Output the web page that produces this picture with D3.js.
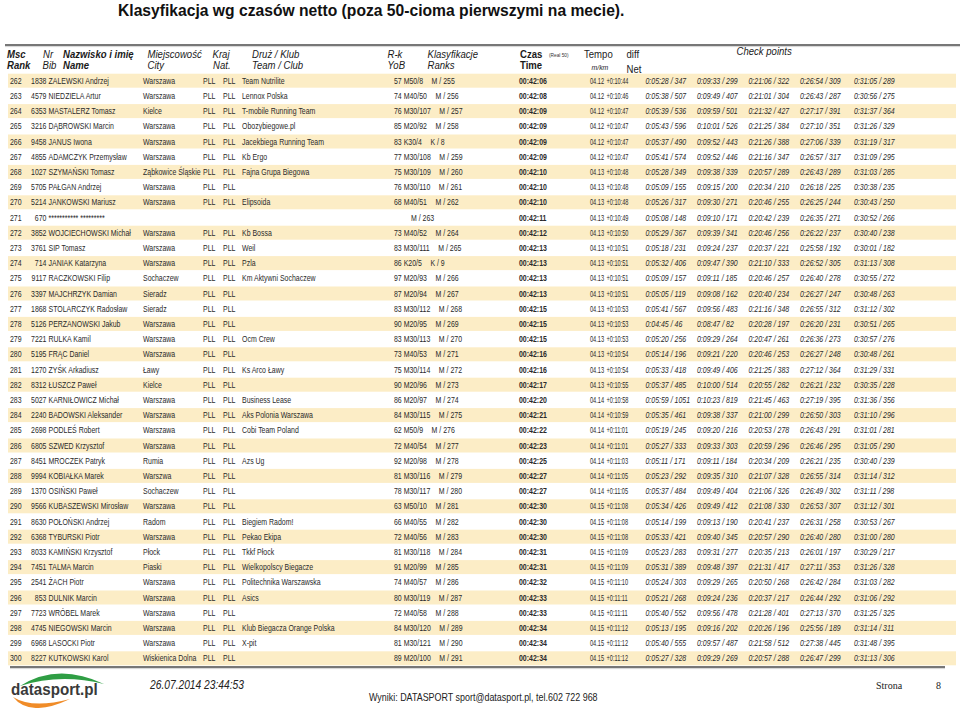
<!DOCTYPE html>
<html><head><meta charset="utf-8">
<script src="https://cdn.jsdelivr.net/npm/d3@7"></script>
<style>body{margin:0;background:#fff}svg{display:block}</style>
</head><body>
<svg id="c" width="960" height="708"></svg>
<script>
const ranks = ["262","263","264","265","266","267","268","269","270","271","272","273","274","275","276","277","278","279","280","281","282","283","284","285","286","287","288","289","290","291","292","293","294","295","296","297","298","299","300"];
const bibs = ["1838","4579","6353","3216","9458","4855","1027","5705","5214","670","3852","3761","714","9117","3397","1868","5126","7221","5195","1270","8312","5027","2240","2698","6805","8451","9994","1370","9566","8630","6368","8033","7451","2541","853","7723","4745","6968","8227"];
const names = ["ZALEWSKI Andrzej","NIEDZIELA Artur","MASTALERZ Tomasz","DĄBROWSKI Marcin","JANUS Iwona","ADAMCZYK Przemysław","SZYMAŃSKI Tomasz","PAŁGAN Andrzej","JANKOWSKI Mariusz","*********** *********","WOJCIECHOWSKI Michał","SIP Tomasz","JANIAK Katarzyna","RACZKOWSKI Filip","MAJCHRZYK Damian","STOLARCZYK Radosław","PERZANOWSKI Jakub","RULKA Kamil","FRĄC Daniel","ZYŚK Arkadiusz","ŁUSZCZ Paweł","KARNIŁOWICZ Michał","BADOWSKI Aleksander","PODLEŚ Robert","SZWED Krzysztof","MROCZEK Patryk","KOBIAŁKA Marek","OSIŃSKI Paweł","KUBASZEWSKI Mirosław","POŁOŃSKI Andrzej","TYBURSKI Piotr","KAMIŃSKI Krzysztof","TALMA Marcin","ŻACH Piotr","DULNIK Marcin","WRÓBEL Marek","NIEGOWSKI Marcin","LASOCKI Piotr","KUTKOWSKI Karol"];
const cities = ["Warszawa","Warszawa","Kielce","Warszawa","Warszawa","Warszawa","Ząbkowice Śląskie","Warszawa","Warszawa","","Warszawa","Warszawa","Warszawa","Sochaczew","Sieradz","Sieradz","Warszawa","Warszawa","Warszawa","Ławy","Kielce","Warszawa","Warszawa","Warszawa","Warszawa","Rumia","Warszwa","Sochaczew","Warszawa","Radom","Warszawa","Płock","Piaski","Warszawa","Warszawa","Warszawa","Warszawa","Warszawa","Wiskienica Dolna"];
const countries = ["PLL","PLL","PLL","PLL","PLL","PLL","PLL","PLL","PLL","","PLL","PLL","PLL","PLL","PLL","PLL","PLL","PLL","PLL","PLL","PLL","PLL","PLL","PLL","PLL","PLL","PLL","PLL","PLL","PLL","PLL","PLL","PLL","PLL","PLL","PLL","PLL","PLL","PLL"];
const clubs = ["Team Nutrilite","Lennox Polska","T-mobile Running Team","Obozybiegowe.pl","Jacekbiega Running Team","Kb Ergo","Fajna Grupa Biegowa","","Elipsoida","","Kb Bossa","Weil","Pzla","Km Aktywni Sochaczew","","","","Ocm Crew","","Ks Arco Ławy","","Business Lease","Aks Polonia Warszawa","Cobi Team Poland","","Azs Ug","","","","Biegiem Radom!","Pekao Ekipa","Tkkf Płock","Wielkopolscy Biegacze","Politechnika Warszawska","Asics","","Klub Biegacza Orange Polska","X-pit",""];
const yobCats = ["57 M50/8","74 M40/50","76 M30/107","85 M20/92","83 K30/4","77 M30/108","75 M30/109","76 M30/110","68 M40/51","","73 M40/52","83 M30/111","86 K20/5","97 M20/93","87 M20/94","83 M30/112","90 M20/95","83 M30/113","73 M40/53","75 M30/114","90 M20/96","86 M20/97","84 M30/115","62 M50/9","72 M40/54","92 M20/98","81 M30/116","78 M30/117","63 M50/10","66 M40/55","72 M40/56","81 M30/118","91 M20/99","74 M40/57","80 M30/119","72 M40/58","84 M30/120","81 M30/121","89 M20/100"];
const classRanks = ["M / 255","M / 256","M / 257","M / 258","K / 8","M / 259","M / 260","M / 261","M / 262","M / 263","M / 264","M / 265","K / 9","M / 266","M / 267","M / 268","M / 269","M / 270","M / 271","M / 272","M / 273","M / 274","M / 275","M / 276","M / 277","M / 278","M / 279","M / 280","M / 281","M / 282","M / 283","M / 284","M / 285","M / 286","M / 287","M / 288","M / 289","M / 290","M / 291"];
const times = ["00:42:06","00:42:08","00:42:09","00:42:09","00:42:09","00:42:09","00:42:10","00:42:10","00:42:10","00:42:11","00:42:12","00:42:13","00:42:13","00:42:13","00:42:13","00:42:15","00:42:15","00:42:15","00:42:16","00:42:16","00:42:17","00:42:20","00:42:21","00:42:22","00:42:23","00:42:25","00:42:27","00:42:27","00:42:30","00:42:30","00:42:30","00:42:31","00:42:31","00:42:32","00:42:33","00:42:33","00:42:34","00:42:34","00:42:34"];
const tempos = ["04.12","04.12","04.12","04.12","04.12","04.12","04.13","04.13","04.13","04.13","04.13","04.13","04.13","04.13","04.13","04.13","04.13","04.13","04.13","04.13","04.13","04.14","04.14","04.14","04.14","04.14","04.14","04.14","04.15","04.15","04.15","04.15","04.15","04.15","04.15","04.15","04.15","04.15","04.15"];
const diffs = ["+0:10:44","+0:10:46","+0:10:47","+0:10:47","+0:10:47","+0:10:47","+0:10:48","+0:10:48","+0:10:48","+0:10:49","+0:10:50","+0:10:51","+0:10:51","+0:10:51","+0:10:51","+0:10:53","+0:10:53","+0:10:53","+0:10:54","+0:10:54","+0:10:55","+0:10:58","+0:10:59","+0:11:01","+0:11:01","+0:11:03","+0:11:05","+0:11:05","+0:11:08","+0:11:08","+0:11:08","+0:11:09","+0:11:09","+0:11:10","+0:11:11","+0:11:11","+0:11:12","+0:11:12","+0:11:12"];
const cp1 = ["0:05:28 / 347","0:05:38 / 507","0:05:39 / 536","0:05:43 / 596","0:05:37 / 490","0:05:41 / 574","0:05:28 / 349","0:05:09 / 155","0:05:26 / 317","0:05:08 / 148","0:05:29 / 367","0:05:18 / 231","0:05:32 / 406","0:05:09 / 157","0:05:05 / 119","0:05:41 / 567","0:04:45 / 46","0:05:20 / 256","0:05:14 / 196","0:05:33 / 418","0:05:37 / 485","0:05:59 / 1051","0:05:35 / 461","0:05:19 / 245","0:05:27 / 333","0:05:11 / 171","0:05:23 / 292","0:05:37 / 484","0:05:34 / 426","0:05:14 / 199","0:05:33 / 421","0:05:23 / 283","0:05:31 / 389","0:05:24 / 303","0:05:21 / 268","0:05:40 / 552","0:05:13 / 195","0:05:40 / 555","0:05:27 / 328"];
const cp2 = ["0:09:33 / 299","0:09:49 / 407","0:09:59 / 501","0:10:01 / 526","0:09:52 / 443","0:09:52 / 446","0:09:38 / 339","0:09:15 / 200","0:09:30 / 271","0:09:10 / 171","0:09:39 / 341","0:09:24 / 237","0:09:47 / 390","0:09:11 / 185","0:09:08 / 162","0:09:56 / 483","0:08:47 / 82","0:09:29 / 264","0:09:21 / 220","0:09:49 / 406","0:10:00 / 514","0:10:23 / 819","0:09:38 / 337","0:09:20 / 216","0:09:33 / 303","0:09:11 / 184","0:09:35 / 310","0:09:49 / 404","0:09:49 / 412","0:09:13 / 190","0:09:40 / 345","0:09:31 / 277","0:09:48 / 397","0:09:29 / 265","0:09:24 / 236","0:09:56 / 478","0:09:16 / 202","0:09:57 / 487","0:09:29 / 269"];
const cp3 = ["0:21:06 / 322","0:21:01 / 304","0:21:32 / 427","0:21:25 / 384","0:21:26 / 388","0:21:16 / 347","0:20:57 / 289","0:20:34 / 210","0:20:46 / 255","0:20:42 / 239","0:20:46 / 256","0:20:37 / 221","0:21:10 / 333","0:20:46 / 257","0:20:40 / 234","0:21:16 / 348","0:20:28 / 197","0:20:47 / 261","0:20:46 / 253","0:21:25 / 383","0:20:55 / 282","0:21:45 / 463","0:21:00 / 299","0:20:53 / 278","0:20:59 / 296","0:20:34 / 209","0:21:07 / 328","0:21:06 / 326","0:21:08 / 330","0:20:41 / 237","0:20:57 / 290","0:20:35 / 213","0:21:31 / 417","0:20:50 / 268","0:20:37 / 217","0:21:28 / 401","0:20:26 / 196","0:21:58 / 512","0:20:57 / 288"];
const cp4 = ["0:26:54 / 309","0:26:43 / 287","0:27:17 / 391","0:27:10 / 351","0:27:06 / 339","0:26:57 / 317","0:26:43 / 289","0:26:18 / 225","0:26:25 / 244","0:26:35 / 271","0:26:22 / 237","0:25:58 / 192","0:26:52 / 305","0:26:40 / 278","0:26:27 / 247","0:26:55 / 312","0:26:20 / 231","0:26:36 / 273","0:26:27 / 248","0:27:12 / 364","0:26:21 / 232","0:27:19 / 395","0:26:50 / 303","0:26:43 / 291","0:26:46 / 295","0:26:21 / 235","0:26:55 / 314","0:26:49 / 302","0:26:53 / 307","0:26:31 / 258","0:26:40 / 280","0:26:01 / 197","0:27:11 / 353","0:26:42 / 284","0:26:44 / 292","0:27:13 / 370","0:25:56 / 189","0:27:38 / 445","0:26:47 / 299"];
const cp5 = ["0:31:05 / 289","0:30:56 / 275","0:31:37 / 364","0:31:26 / 329","0:31:19 / 317","0:31:09 / 295","0:31:03 / 285","0:30:38 / 235","0:30:43 / 250","0:30:52 / 266","0:30:40 / 238","0:30:01 / 182","0:31:13 / 308","0:30:55 / 272","0:30:48 / 263","0:31:12 / 302","0:30:51 / 265","0:30:57 / 276","0:30:48 / 261","0:31:29 / 331","0:30:35 / 228","0:31:36 / 356","0:31:10 / 296","0:31:01 / 281","0:31:05 / 290","0:30:40 / 239","0:31:14 / 312","0:31:11 / 298","0:31:12 / 301","0:30:53 / 267","0:31:00 / 280","0:30:29 / 217","0:31:26 / 328","0:31:03 / 282","0:31:06 / 292","0:31:25 / 325","0:31:14 / 311","0:31:48 / 395","0:31:13 / 306"];
const headerRow1 = ["Msc","Nr","Nazwisko i imię","Miejscowość","Kraj","Druż / Klub","R-k","Klasyfikacje","Czas","Tempo","diff"];
const headerRow2 = ["Rank","Bib","Name","City","Nat.","Team / Club","YoB","Ranks","Time","m/km","Net"];
const titleText = "Klasyfikacja wg czasów netto (poza 50-cioma pierwszymi na mecie).";

// ---------- layout ----------
const svg = d3.select("#c");
const SANS = "'Liberation Sans', Arial, sans-serif";
const NARROW = 0.82;

const rows = ranks.map((r, i) => ({
  rank: r, bib: bibs[i], name: names[i], city: cities[i], kraj: countries[i], nat: countries[i],
  club: clubs[i], yob: yobCats[i], cls: classRanks[i], time: times[i], tempo: tempos[i], diff: diffs[i],
  cp1: cp1[i], cp2: cp2[i], cp3: cp3[i], cp4: cp4[i], cp5: cp5[i]
}));

const y = d3.scaleBand().domain(ranks).range([73.1, 73.1 + ranks.length * 15.2]);

const colKeys = ["rank","bib","name","city","kraj","nat","club","yob","time","tempo","diff","cp1","cp2","cp3","cp4","cp5"];
const x = d3.scaleOrdinal().domain(colKeys)
  .range([10, 46.5, 48.5, 143, 203, 223, 242, 394, 519, 590, 606.5, 645.5, 697, 748.5, 800, 854]);
const colStyle = {
  bib: {anchor: "end"}, time: {weight: "bold"},
  tempo: {sx: 0.66}, diff: {sx: 0.66},
  cp1: {style: "italic"}, cp2: {style: "italic"}, cp3: {style: "italic"}, cp4: {style: "italic"}, cp5: {style: "italic"}
};

function ntext(sel, tx, ty, str, o = {}) {
  return sel.append("text")
    .attr("transform", `translate(${tx},${ty}) scale(${o.sx || NARROW},1)`)
    .attr("font-family", o.family || SANS)
    .attr("font-size", o.size || 8.5)
    .attr("font-weight", o.weight || "normal")
    .attr("font-style", o.style || "normal")
    .attr("text-anchor", o.anchor || "start")
    .attr("fill", o.fill || "#2a2a2a")
    .text(str);
}

// title
const title = svg.append("text").attr("x", 118).attr("y", 16)
  .attr("font-family", SANS).attr("font-weight", "bold").attr("font-size", 17)
  .attr("fill", "#111").text(titleText);
const tl = title.node().getComputedTextLength();
title.attr("font-size", 17 * 507 / tl);

// top rule
svg.append("line").attr("x1", 5).attr("x2", 960).attr("y1", 45).attr("y2", 45)
  .attr("stroke", "#4a4a4a").attr("stroke-width", 1.6);
svg.append("line").attr("x1", 5).attr("x2", 960).attr("y1", 46.6).attr("y2", 46.6)
  .attr("stroke", "#c8c8c8").attr("stroke-width", 0.8);

// header
const hdr = svg.append("g");
const hx = [7, 43, 63, 147.5, 212.5, 252, 387.5, 427.5, 520, 584, 626.5];
const hx2 = [7, 42.5, 63, 147.5, 213, 252, 387.5, 427.5, 520, 591.5, 626.5];
const hStyle1 = [
  {weight:"bold",style:"italic"},{style:"italic"},{weight:"bold",style:"italic"},{style:"italic"},{style:"italic"},
  {style:"italic"},{style:"italic"},{style:"italic"},{weight:"bold"},{},{}];
const hStyle2 = [
  {weight:"bold",style:"italic"},{style:"italic"},{weight:"bold",style:"italic"},{style:"italic"},{style:"italic"},
  {style:"italic"},{style:"italic"},{style:"italic"},{weight:"bold"},{style:"italic",size:7.5},{}];
const HS = {size: 10.4, sx: 0.92, fill: "#1a1a1a"};
headerRow1.forEach((t, i) => ntext(hdr, hx[i], 58.4, t, Object.assign({}, HS, hStyle1[i])));
headerRow2.forEach((t, i) => ntext(hdr, hx2[i], i === 10 ? 73 : (i === 9 ? 70 : 68.6), t,
  Object.assign({}, HS, hStyle2[i])));
ntext(hdr, 549, 57, "(Real 50)", {size: 5.8, fill: "#333"});
ntext(hdr, 736.5, 55, "Check points", Object.assign({}, HS, {style: "italic"}));

// row bands
svg.append("g").selectAll("rect")
  .data(rows.filter((d, i) => i % 2 === 0))
  .join("rect")
  .attr("x", 8).attr("width", 948)
  .attr("y", d => y(d.rank) + 0.6).attr("height", y.bandwidth() - 1.2)
  .attr("fill", "#fcedc6");

// row texts
const rowG = svg.append("g").selectAll("g").data(rows).join("g");
rowG.each(function (d) {
  const g = d3.select(this);
  const base = y(d.rank) + y.bandwidth() / 2 + 3;
  colKeys.forEach(k => {
    if (!d[k]) return;
    ntext(g, x(k), base, d[k], colStyle[k] || {});
  });
  // class rank follows the YoB/category text
  let cx = 411;
  if (d.yob) {
    const t = ntext(g, -1000, -1000, d.yob);
    cx = x("yob") + t.node().getComputedTextLength() * NARROW + 8.5;
    t.remove();
  }
  ntext(g, cx, base, d.cls);
});

// bottom rule
svg.append("line").attr("x1", 10).attr("x2", 945).attr("y1", 667).attr("y2", 667)
  .attr("stroke", "#4a4a4a").attr("stroke-width", 1.6);
svg.append("line").attr("x1", 10).attr("x2", 945).attr("y1", 668.6).attr("y2", 668.6)
  .attr("stroke", "#c8c8c8").attr("stroke-width", 0.8);

// footer logo
const logo = svg.append("g");
logo.append("path").attr("d", "M20,686 Q58,662 104,684 Q60,673 20,686 Z").attr("fill", "#2f9e44");
logo.append("path").attr("d", "M13,697 Q30,718 70,699 Q32,709 13,697 Z").attr("fill", "#f08c28");
ntext(logo, 11, 695, "datasport.pl", {size: 16.5, weight: "bold", sx: 0.92, fill: "#3a3a3a"});

// footer texts
ntext(svg, 150, 689, "26.07.2014 23:44:53", {size: 12.5, style: "italic", fill: "#222"});
ntext(svg, 369, 701, "Wyniki: DATASPORT sport@datasport.pl, tel.602 722 968", {size: 10.9, fill: "#222"});
ntext(svg, 876, 689, "Strona", {size: 10, family: "'Liberation Serif', 'Times New Roman', serif", sx: 1, fill: "#222"});
ntext(svg, 936, 689, "8", {size: 10, family: "'Liberation Serif', 'Times New Roman', serif", sx: 1, fill: "#222"});
</script>
</body></html>
